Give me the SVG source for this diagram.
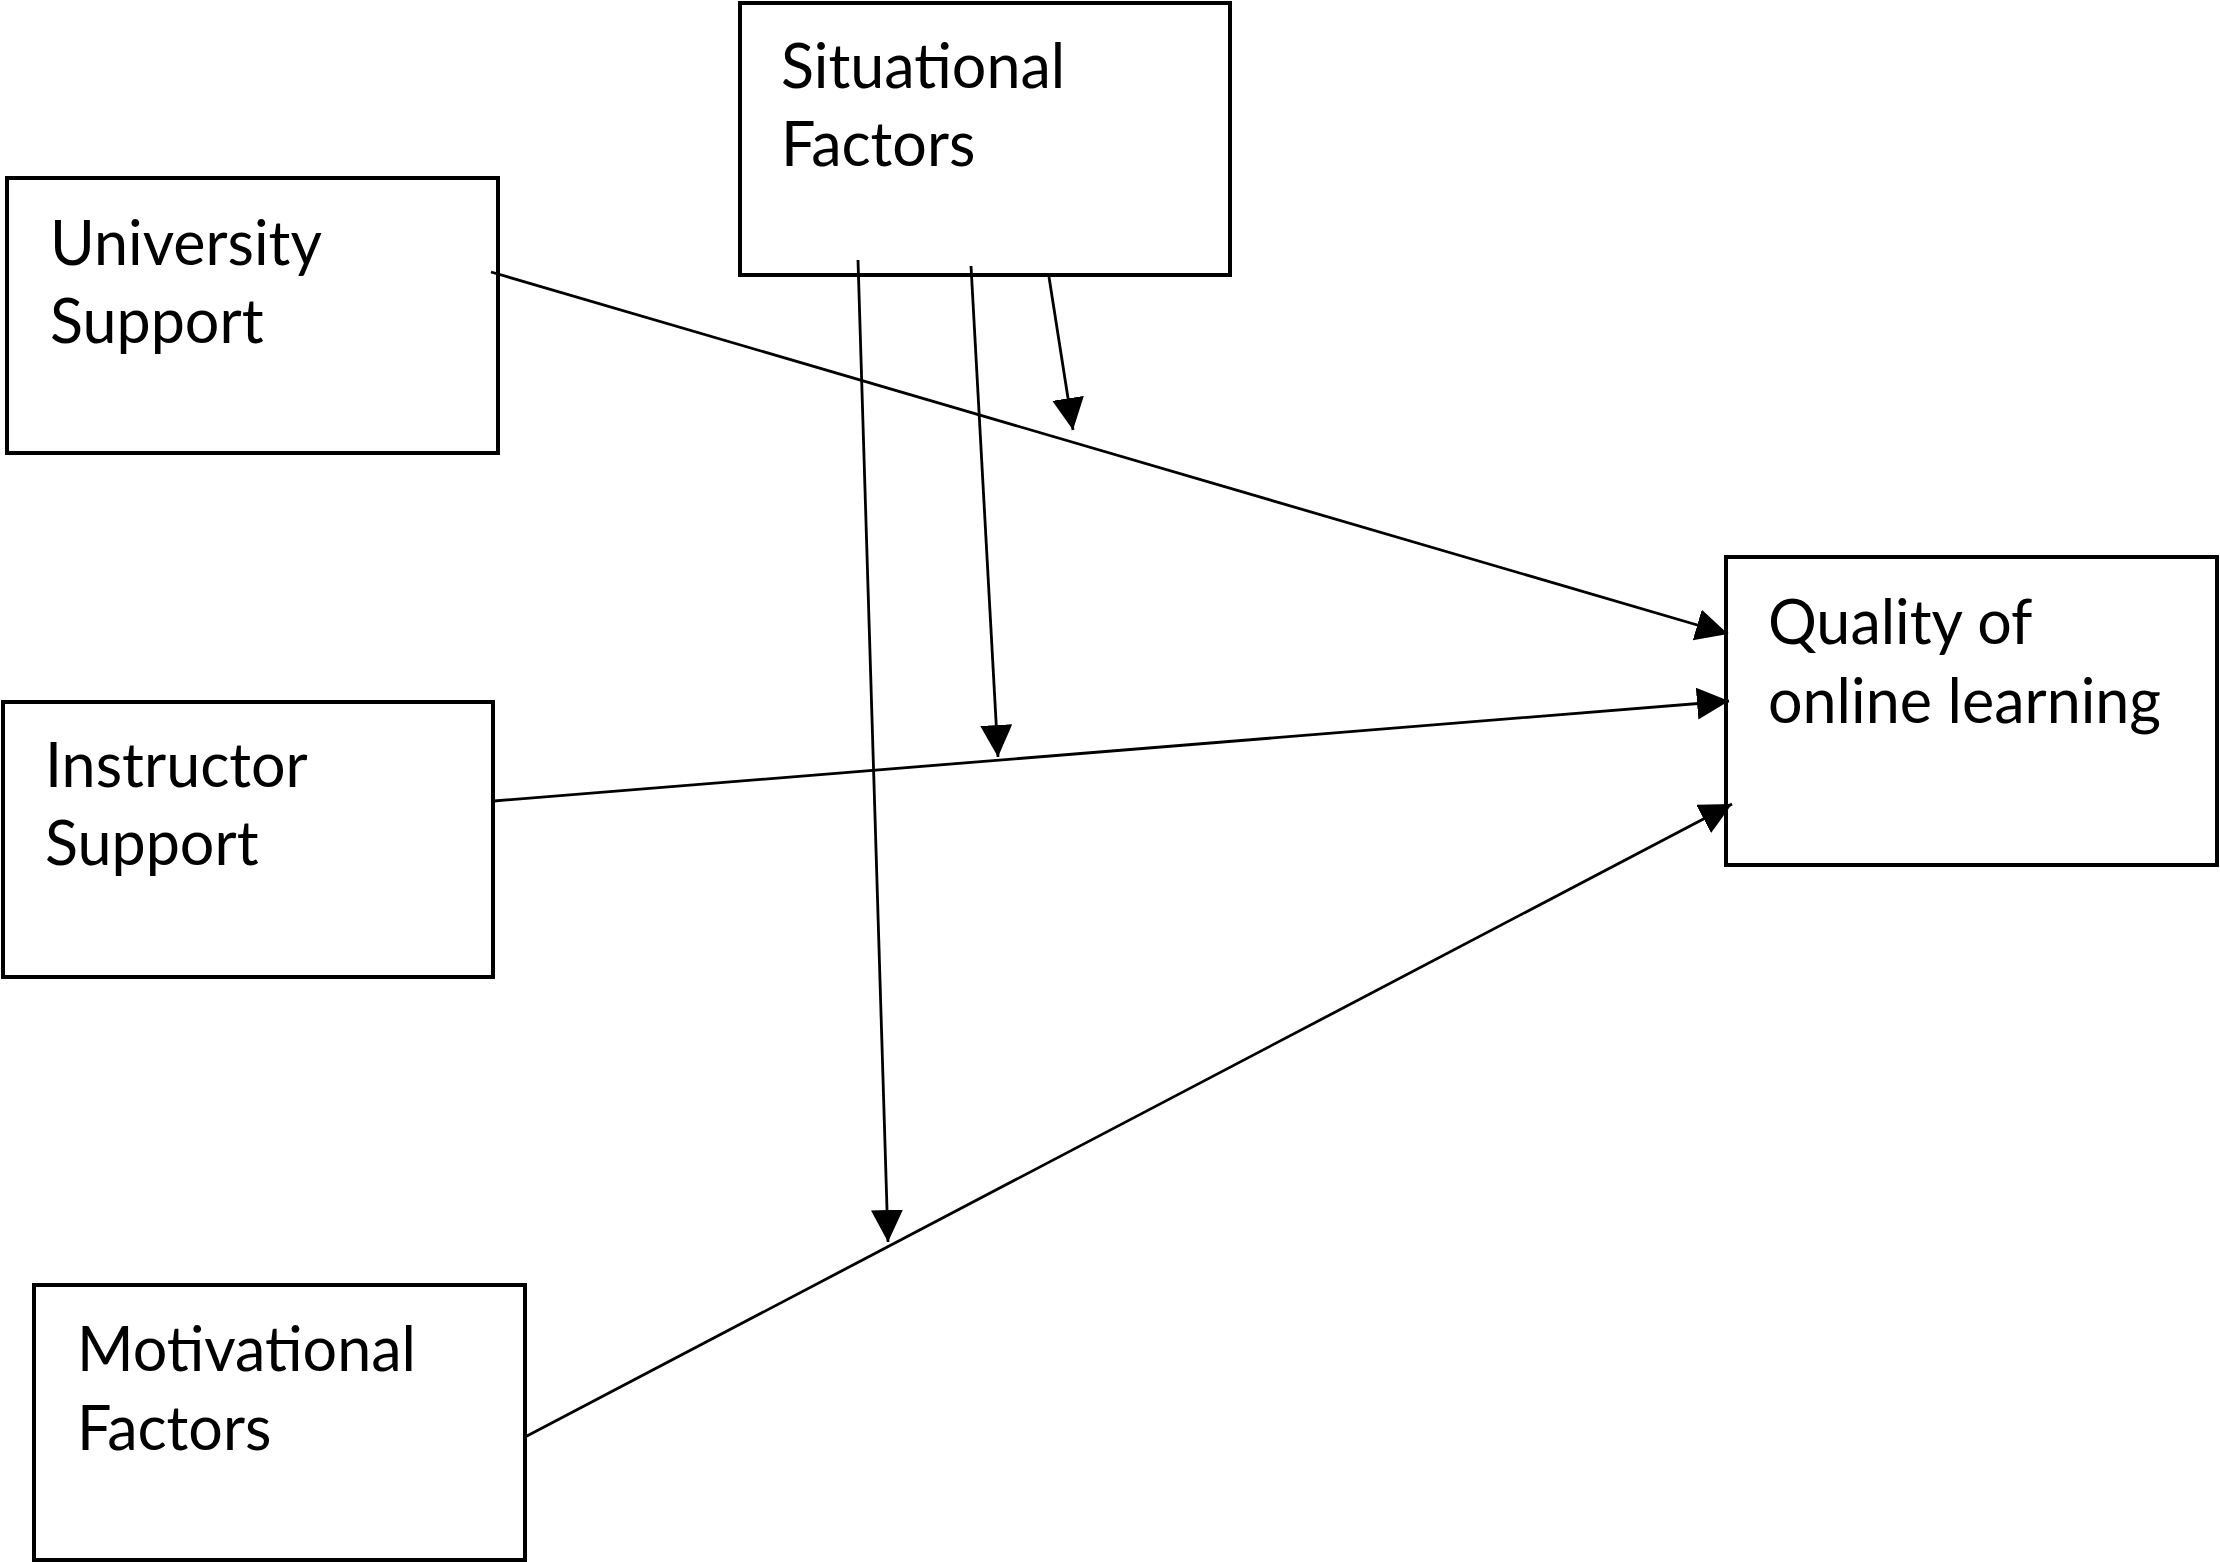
<svg xmlns="http://www.w3.org/2000/svg" width="2220" height="1562" viewBox="0 0 2220 1562">
<style>
.box{fill:#fff;stroke:#000;stroke-width:4}
.lbl{font-family:Lato,"Liberation Sans",sans-serif;font-size:61px;fill:#000}
.con{stroke:#000;stroke-width:2.8;fill:none}
</style>
<defs>
<marker id="ah" markerUnits="userSpaceOnUse" markerWidth="34" markerHeight="34" refX="32" refY="16" orient="auto" viewBox="0 0 34 34">
<path d="M0,0 L32,16 L0,32 z" fill="#000"/>
</marker>
</defs>
<rect width="2220" height="1562" fill="#fff"/>
<g id="situational">
<rect class="box" x="740" y="3" width="490" height="272"/>
<text class="lbl" x="781" y="88">Situational</text>
<text class="lbl" x="781" y="166">Factors</text>
</g>
<g id="university">
<rect class="box" x="7" y="178" width="491" height="275"/>
<text class="lbl" x="50" y="265">University</text>
<text class="lbl" x="50" y="343">Support</text>
</g>
<g id="instructor">
<rect class="box" x="3" y="702" width="490" height="275"/>
<text class="lbl" x="45" y="787">Instructor</text>
<text class="lbl" x="45" y="865">Support</text>
</g>
<g id="motivational">
<rect class="box" x="34" y="1285" width="491" height="275"/>
<text class="lbl" x="77" y="1371">Motivational</text>
<text class="lbl" x="77" y="1450">Factors</text>
</g>
<g id="quality">
<rect class="box" x="1726" y="557" width="491" height="308"/>
<text class="lbl" x="1768" y="644">Quality of</text>
<text class="lbl" x="1768" y="723">online learning</text>
</g>
<g id="connectors">
<line class="con" x1="491" y1="272" x2="1728" y2="634" marker-end="url(#ah)"/>
<line class="con" x1="494" y1="801" x2="1729" y2="701" marker-end="url(#ah)"/>
<line class="con" x1="525" y1="1437" x2="1732" y2="804" marker-end="url(#ah)"/>
<line class="con" x1="858" y1="260" x2="888" y2="1242" marker-end="url(#ah)"/>
<line class="con" x1="971" y1="266" x2="998" y2="757" marker-end="url(#ah)"/>
<line class="con" x1="1049" y1="277" x2="1073" y2="430" marker-end="url(#ah)"/>
</g>
</svg>
